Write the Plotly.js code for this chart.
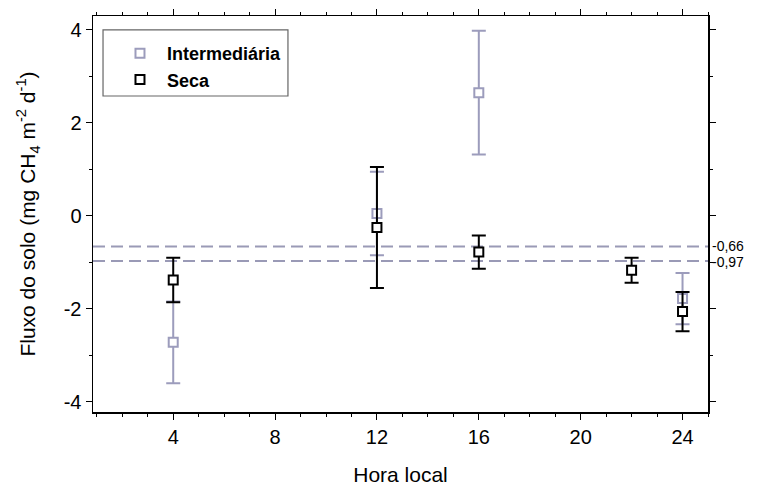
<!DOCTYPE html>
<html>
<head>
<meta charset="utf-8">
<script src="https://cdn.plot.ly/plotly-3.0.1.min.js"></script>
<style>html,body{margin:0;padding:0;background:#fff}#chart{width:773px;height:486px}</style>
</head>
<body>
<div id="chart"></div>
<script>
// Data
const horaIntermediaria = [4, 12, 16, 24];
const fluxoIntermediaria = [-2.72, 0.05, 2.65, -1.78];
const erroIntermediaria = [0.88, 0.90, 1.33, 0.55];

const horaSeca = [4, 12, 16, 22, 24];
const fluxoSeca = [-1.38, -0.25, -0.78, -1.17, -2.06];
const erroSeca = [0.48, 1.30, 0.36, 0.27, 0.42];

const mediaLinhas = [-0.66, -0.97];
const mediaRotulos = ['-0,66', '-0,97'];

const xTicks = [4, 8, 12, 16, 20, 24];
const yTicks = [-4, -2, 0, 2, 4];

const corInter = '#9c9cbc';
const corSeca = '#000000';
const fontFam = 'Arial, "Liberation Sans", sans-serif';

const traces = [
  {
    x: horaIntermediaria, y: fluxoIntermediaria, name: 'Intermediária',
    type: 'scatter', mode: 'markers',
    marker: {symbol: 'square', size: 9, color: '#ffffff', line: {color: corInter, width: 2}},
    error_y: {type: 'data', array: erroIntermediaria, visible: true, color: corInter, thickness: 2, width: 7}
  },
  {
    x: horaSeca, y: fluxoSeca, name: 'Seca',
    type: 'scatter', mode: 'markers',
    marker: {symbol: 'square', size: 9, color: '#ffffff', line: {color: corSeca, width: 2}},
    error_y: {type: 'data', array: erroSeca, visible: true, color: corSeca, thickness: 2, width: 7}
  }
];

const shapes = mediaLinhas.map(v => ({
  type: 'line', xref: 'paper', x0: 0, x1: 1, yref: 'y', y0: v, y1: v,
  line: {color: '#9a9ab6', width: 2, dash: '12px,6px'}, layer: 'below'
}));
// legend frame
shapes.push({
  type: 'rect', xref: 'paper', yref: 'paper',
  x0: 0.0163, x1: 0.317, y0: 0.798, y1: 0.965,
  line: {color: '#666', width: 1.2}, fillcolor: 'rgba(0,0,0,0)', layer: 'above'
});

const annotations = mediaLinhas.map((v, i) => ({
  xref: 'paper', x: 1, xanchor: 'left', xshift: 2, yref: 'y', y: v,
  yshift: i === 0 ? 1 : -1,
  text: mediaRotulos[i], showarrow: false,
  font: {family: fontFam, size: 14, color: '#000'}
}));

const axisCommon = {
  showline: true, linecolor: '#000', linewidth: 1.5, mirror: 'allticks',
  ticks: 'outside', ticklen: 6, tickwidth: 1, tickcolor: '#000',
  showgrid: false, zeroline: false,
  tickfont: {family: fontFam, size: 20, color: '#000'}
};

const layout = {
  width: 773, height: 486,
  margin: {l: 93, r: 65, t: 16, b: 74},
  paper_bgcolor: '#fff', plot_bgcolor: '#fff',
  showlegend: true,
  legend: {
    x: 0.0325, y: 0.952, xanchor: 'left', yanchor: 'top',
    bgcolor: 'rgba(0,0,0,0)', borderwidth: 0,
    font: {family: fontFam, size: 18, color: '#000', weight: 'bold'},
    itemwidth: 44, tracegroupgap: 0
  },
  xaxis: Object.assign({}, axisCommon, {
    range: [0.85, 25], tickmode: 'array', tickvals: xTicks, ticktext: xTicks.map(String),
    minor: {dtick: 1, tick0: 0, ticks: 'outside', ticklen: 3, tickcolor: '#000', showgrid: false},
    title: {text: 'Hora local', font: {family: fontFam, size: 21, color: '#000'}, standoff: 21}
  }),
  yaxis: Object.assign({}, axisCommon, {
    range: [-4.22, 4.3], tickmode: 'array', tickvals: yTicks, ticktext: yTicks.map(String),
    minor: {dtick: 1, tick0: 0, ticks: 'outside', ticklen: 3, tickcolor: '#000', showgrid: false},
    title: {text: 'Fluxo do solo (mg CH<sub>4</sub> m<sup>-2</sup> d<sup>-1</sup>)', font: {family: fontFam, size: 21, color: '#000'}, standoff: 22}
  }),
  shapes: shapes,
  annotations: annotations
};

Plotly.newPlot('chart', traces, layout, {staticPlot: true, displayModeBar: false});
</script>
</body>
</html>
